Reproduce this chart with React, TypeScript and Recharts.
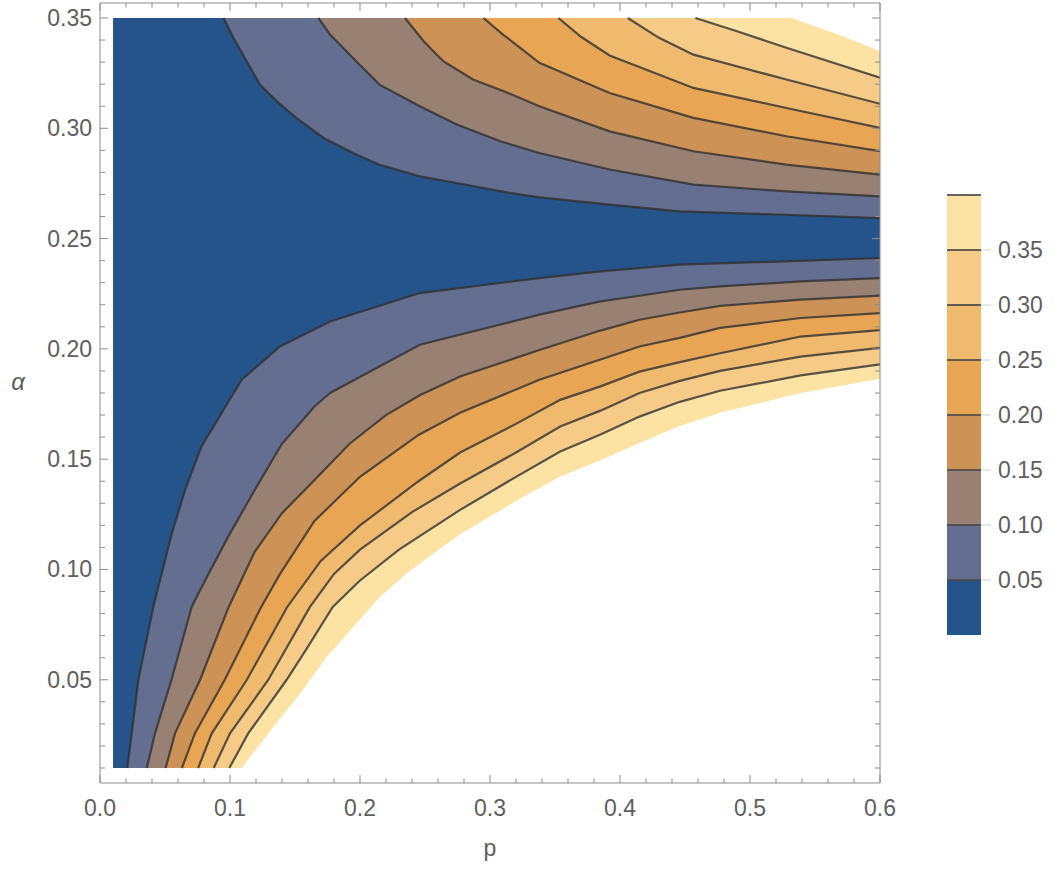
import { Area, Bar, BarChart, ComposedChart, Line, ReferenceLine, XAxis, YAxis } from "recharts";

// contour levels and band colours (band i lies between LEVELS[i-1] and LEVELS[i])
const LEVELS = [0.05, 0.1, 0.15, 0.2, 0.25, 0.3, 0.35, 0.4];
const BAND_COLORS = ["#25548a", "#646e91", "#988073", "#cc9256", "#e8a654", "#f0ba6e", "#f6cb87", "#fde3a3"];
const P_LABELS = [0, 0.1, 0.2, 0.3, 0.4, 0.5, 0.6];
const ALPHA_LABELS = [0.05, 0.1, 0.15, 0.2, 0.25, 0.3, 0.35];
const LEGEND_LABELS = [0.05, 0.1, 0.15, 0.2, 0.25, 0.3, 0.35];

// sampled region
const P_MIN = 0.01;
const A_MIN = 0.01;
const A_MAX = 0.35;

// lower contour lines, [p, alpha], from the bottom edge to p = 0.6
const lower05 = [[0.021, 0.01], [0.0244, 0.0257], [0.0295, 0.05], [0.041, 0.083], [0.0474, 0.098], [0.0551, 0.116], [0.0654, 0.136], [0.078, 0.1557], [0.0936, 0.171], [0.109, 0.186], [0.1385, 0.2011], [0.177, 0.2124], [0.246, 0.2253], [0.338, 0.2321], [0.385, 0.2351], [0.446, 0.2382], [0.527, 0.2397], [0.6, 0.2412]];
const lower10 = [[0.036, 0.01], [0.0423, 0.0257], [0.055, 0.05], [0.0705, 0.083], [0.0808, 0.095], [0.0987, 0.115], [0.119, 0.136], [0.14, 0.157], [0.165, 0.1739], [0.177, 0.18], [0.246, 0.2019], [0.338, 0.2155], [0.385, 0.2215], [0.415, 0.2241], [0.446, 0.2268], [0.477, 0.2283], [0.539, 0.2306], [0.6, 0.2321]];
const lower15 = [[0.0505, 0.01], [0.0577, 0.0257], [0.077, 0.05], [0.099, 0.083], [0.119, 0.108], [0.14, 0.1255], [0.165, 0.1406], [0.192, 0.157], [0.22, 0.17], [0.246, 0.179], [0.277, 0.1875], [0.338, 0.1995], [0.385, 0.2083], [0.415, 0.2132], [0.446, 0.2165], [0.477, 0.2195], [0.539, 0.2223], [0.6, 0.2241]];
const lower20 = [[0.063, 0.01], [0.073, 0.0257], [0.096, 0.05], [0.124, 0.083], [0.1385, 0.098], [0.165, 0.122], [0.2, 0.142], [0.245, 0.161], [0.277, 0.171], [0.338, 0.186], [0.385, 0.1952], [0.415, 0.2011], [0.446, 0.205], [0.477, 0.2095], [0.539, 0.214], [0.6, 0.2162]];
const lower25 = [[0.0755, 0.01], [0.086, 0.0257], [0.113, 0.05], [0.144, 0.083], [0.17, 0.104], [0.2, 0.12], [0.245, 0.14], [0.277, 0.153], [0.32, 0.166], [0.354, 0.1769], [0.385, 0.183], [0.415, 0.1897], [0.446, 0.194], [0.477, 0.198], [0.539, 0.2056], [0.6, 0.2085]];
const lower30 = [[0.0875, 0.01], [0.1, 0.0257], [0.1295, 0.05], [0.1615, 0.083], [0.18, 0.098], [0.2, 0.109], [0.24, 0.126], [0.277, 0.139], [0.32, 0.153], [0.354, 0.1648], [0.385, 0.172], [0.415, 0.18], [0.446, 0.1855], [0.477, 0.19], [0.539, 0.1965], [0.6, 0.2005]];
const lower35 = [[0.0995, 0.01], [0.114, 0.0257], [0.1436, 0.05], [0.16, 0.065], [0.179, 0.083], [0.2, 0.095], [0.23, 0.109], [0.277, 0.127], [0.32, 0.142], [0.354, 0.1535], [0.385, 0.1612], [0.415, 0.1693], [0.446, 0.176], [0.477, 0.181], [0.539, 0.188], [0.6, 0.193]];
const lower40 = [[0.109, 0.01], [0.122, 0.02], [0.1335, 0.0287], [0.154, 0.0438], [0.1744, 0.0604], [0.195, 0.074], [0.2157, 0.0877], [0.236, 0.0983], [0.2567, 0.1074], [0.277, 0.116], [0.32, 0.131], [0.354, 0.1421], [0.385, 0.1495], [0.415, 0.1573], [0.446, 0.165], [0.477, 0.171], [0.539, 0.18], [0.6, 0.1865]];

// upper contour lines, [p, alpha], from the top edge to p = 0.6
const upper05 = [[0.095, 0.35], [0.1026, 0.341], [0.1128, 0.3304], [0.123, 0.3198], [0.136, 0.3122], [0.151, 0.3047], [0.172, 0.2956], [0.197, 0.2881], [0.215, 0.2835], [0.246, 0.2782], [0.2744, 0.2752], [0.315, 0.2707], [0.338, 0.2687], [0.392, 0.2654], [0.446, 0.2623], [0.527, 0.2608], [0.6, 0.2593]];
const upper10 = [[0.168, 0.35], [0.177, 0.3425], [0.197, 0.3304], [0.215, 0.3198], [0.246, 0.31], [0.2744, 0.3017], [0.308, 0.2941], [0.338, 0.2888], [0.392, 0.2813], [0.4565, 0.2745], [0.528, 0.2714], [0.6, 0.2691]];
const upper15 = [[0.2346, 0.35], [0.249, 0.3395], [0.264, 0.3304], [0.287, 0.3221], [0.312, 0.3165], [0.338, 0.31], [0.392, 0.2986], [0.4565, 0.2896], [0.528, 0.2835], [0.6, 0.279]];
const upper20 = [[0.295, 0.35], [0.31, 0.3425], [0.338, 0.3297], [0.392, 0.316], [0.4565, 0.3047], [0.528, 0.2964], [0.6, 0.2896]];
const upper25 = [[0.3526, 0.35], [0.37, 0.3415], [0.392, 0.333], [0.4565, 0.3183], [0.528, 0.3092], [0.6, 0.3002]];
const upper30 = [[0.406, 0.35], [0.43, 0.341], [0.4565, 0.3334], [0.528, 0.3221], [0.6, 0.3111]];
const upper35 = [[0.458, 0.35], [0.49, 0.344], [0.528, 0.3365], [0.6, 0.3229]];
const upper40 = [[0.532, 0.35], [0.564, 0.3433], [0.6, 0.335]];

const LOWER = [lower05, lower10, lower15, lower20, lower25, lower30, lower35, lower40];
const UPPER = [upper05, upper10, upper15, upper20, upper25, upper30, upper35, upper40];

const FRAME = "#8c8c8c";
const TEXT = "#5e5e5e";
const FONT = "'Liberation Sans', Arial, Helvetica, sans-serif";
const CONTOUR = "#303030";

const toPoints = (pts: number[][]) => pts.map(([p, a]) => ({ p, a }));

// region where value < level: left of lower and upper contour, closed along the left edge
const regions = LEVELS.map((_, i) =>
  toPoints([...LOWER[i], ...[...UPPER[i]].reverse(), [P_MIN, A_MAX], [P_MIN, A_MIN]])
);

const X_TICKS = Array.from({ length: 31 }, (_, k) => k / 50);
const Y_TICKS = Array.from({ length: 35 }, (_, k) => (k + 1) / 100);
const isMajor = (v: number, list: number[]) => list.some((m) => Math.abs(m - v) < 1e-9);

const legendRow = [
  Object.fromEntries([["name", "bar"], ...LEVELS.map((l, i) => [`b${i}`, +(l - (i ? LEVELS[i - 1] : 0)).toFixed(2)])]),
];

function BottomTick({ x, y, payload }: any) {
  const major = isMajor(payload.value, P_LABELS);
  return (
    <g>
      <line x1={x} x2={x} y1={y} y2={y - (major ? 8 : 4.5)} stroke={FRAME} />
      {major && (
        <text x={x} y={y + 33} textAnchor="middle" fill={TEXT} fontSize={23} fontFamily={FONT}>
          {payload.value.toFixed(1)}
        </text>
      )}
    </g>
  );
}

function TopTick({ x, y, payload }: any) {
  const major = isMajor(payload.value, P_LABELS);
  return <line x1={x} x2={x} y1={y} y2={y + (major ? 8 : 4.5)} stroke={FRAME} />;
}

function LeftTick({ x, y, payload }: any) {
  const major = isMajor(payload.value, ALPHA_LABELS);
  return (
    <g>
      <line x1={x} x2={x + (major ? 8 : 5)} y1={y} y2={y} stroke={FRAME} />
      {major && (
        <text x={x - 8} y={y + 8} textAnchor="end" fill={TEXT} fontSize={23} fontFamily={FONT}>
          {payload.value.toFixed(2)}
        </text>
      )}
    </g>
  );
}

function RightTick({ x, y, payload }: any) {
  const major = isMajor(payload.value, ALPHA_LABELS);
  return <line x1={x} x2={x - (major ? 8 : 5)} y1={y} y2={y} stroke={FRAME} />;
}

export default function App() {
  return (
    <div style={{ position: "absolute", left: 0, top: 0, width: 1061, height: 871, background: "#fff" }}>
      <div style={{ position: "absolute", left: 0, top: 0 }}>
        <ComposedChart width={1061} height={871} margin={{ top: 2, right: 180, bottom: 28, left: 10 }}>
          {regions
            .map((data, i) => (
              <Area
                key={`r${i}`}
                data={data}
                dataKey="a"
                type="linear"
                baseValue={A_MIN}
                fill={BAND_COLORS[i]}
                fillOpacity={1}
                stroke="none"
                isAnimationActive={false}
              />
            ))
            .reverse()}
          {LOWER.slice(0, 7).map((pts, i) => (
            <Line key={`lo${i}`} data={toPoints(pts)} dataKey="a" type="linear" stroke={CONTOUR} strokeOpacity={0.8} strokeWidth={2.2} dot={false} isAnimationActive={false} />
          ))}
          {UPPER.slice(0, 7).map((pts, i) => (
            <Line key={`up${i}`} data={toPoints(pts)} dataKey="a" type="linear" stroke={CONTOUR} strokeOpacity={0.8} strokeWidth={2.2} dot={false} isAnimationActive={false} />
          ))}
          <XAxis
            dataKey="p"
            type="number"
            domain={[0, 0.6]}
            allowDataOverflow
            ticks={X_TICKS}
            interval={0}
            height={60}
            tickSize={0}
            tickMargin={0}
            tickLine={false}
            axisLine={{ stroke: FRAME }}
            tick={<BottomTick />}
            label={{
              value: "p",
              content: ({ viewBox }: any) => (
                <text x={viewBox.x + viewBox.width / 2} y={viewBox.y + 73} textAnchor="middle" fill={TEXT} fontSize={23} fontFamily={FONT}>
                  p
                </text>
              ),
            }}
          />
          <XAxis
            xAxisId="top"
            orientation="top"
            dataKey="p"
            type="number"
            domain={[0, 0.6]}
            allowDataOverflow
            ticks={X_TICKS}
            interval={0}
            height={1}
            tickSize={0}
            tickMargin={0}
            tickLine={false}
            axisLine={{ stroke: FRAME }}
            tick={<TopTick />}
          />
          <YAxis
            type="number"
            domain={[0.0032, 0.3568]}
            allowDataOverflow
            ticks={Y_TICKS}
            interval={0}
            width={90}
            tickSize={0}
            tickMargin={0}
            tickLine={false}
            axisLine={{ stroke: FRAME }}
            tick={<LeftTick />}
            label={{
              value: "α",
              content: ({ viewBox }: any) => (
                <text x={viewBox.x + 8} y={viewBox.y + viewBox.height / 2 - 3} textAnchor="middle" fill={TEXT} fontSize={24} fontStyle="italic" fontFamily={FONT}>
                  α
                </text>
              ),
            }}
          />
          <YAxis
            yAxisId="right"
            orientation="right"
            type="number"
            domain={[0.0032, 0.3568]}
            allowDataOverflow
            ticks={Y_TICKS}
            interval={0}
            width={1}
            tickSize={0}
            tickMargin={0}
            tickLine={false}
            axisLine={{ stroke: FRAME }}
            tick={<RightTick />}
          />
        </ComposedChart>
      </div>
      <div style={{ position: "absolute", left: 900, top: 0 }}>
        <BarChart width={161} height={871} data={legendRow} margin={{ top: 195, right: 0, bottom: 236, left: 47 }} barCategoryGap={0}>
          <XAxis dataKey="name" hide />
          <YAxis
            orientation="right"
            type="number"
            domain={[0, 0.4]}
            allowDataOverflow
            ticks={LEGEND_LABELS}
            interval={0}
            width={80}
            axisLine={false}
            tickSize={10}
            tickMargin={7}
            tickLine={{ stroke: "#d0d0d0" }}
            tick={{ fill: TEXT, fontSize: 23, fontFamily: FONT }}
            tickFormatter={(v: number) => v.toFixed(2)}
          />
          {LEVELS.map((_, i) => (
            <Bar key={`b${i}`} dataKey={`b${i}`} stackId="legend" fill={BAND_COLORS[i]} isAnimationActive={false} />
          ))}
          {LEVELS.map((l) => (
            <ReferenceLine key={`s${l}`} y={l} stroke="#4a4a4a" strokeOpacity={0.85} strokeWidth={1.8} />
          ))}
        </BarChart>
      </div>
    </div>
  );
}
